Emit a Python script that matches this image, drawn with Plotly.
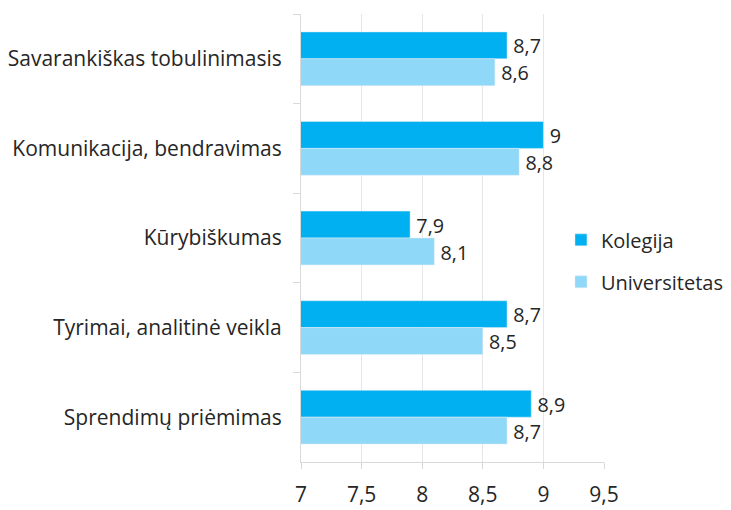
import plotly.graph_objects as go

categories = ["Savarankiškas tobulinimasis", "Komunikacija, bendravimas", "Kūrybiškumas",
              "Tyrimai, analitinė veikla", "Sprendimų priėmimas"]
kolegija = [8.7, 9.0, 7.9, 8.7, 8.9]
universitetas = [8.6, 8.8, 8.1, 8.5, 8.7]
x_ticks = [7, 7.5, 8, 8.5, 9, 9.5]
x_tick_labels = ["7", "7,5", "8", "8,5", "9", "9,5"]

def fmt(v):
    return "\u2009" + ("%g" % v).replace(".", ",")

FONT = "Open Sans"
TXT = "#262626"

fig = go.Figure()
fig.add_trace(go.Bar(
    y=categories, x=kolegija, orientation="h", name="Kolegija", legendgroup="k",
    marker=dict(color="#00B0F0"),
    text=[fmt(v) for v in kolegija], textposition="outside",
    textfont=dict(family=FONT, size=22, color=TXT), cliponaxis=False,
))
fig.add_trace(go.Bar(
    y=categories, x=universitetas, orientation="h", name="Universitetas", legendgroup="u",
    marker=dict(color="#8FD8F7"),
    text=[fmt(v) for v in universitetas], textposition="outside",
    textfont=dict(family=FONT, size=22, color=TXT), cliponaxis=False,
))

fig.update_layout(
    width=731, height=510,
    margin=dict(l=293, r=135, t=6, b=56, autoexpand=False),
    paper_bgcolor="white", plot_bgcolor="white",
    barmode="group", bargap=0.4, bargroupgap=0,
    font=dict(family=FONT, size=20, color=TXT),
    showlegend=True,
    legend=dict(x=0.858, y=0.449, xanchor="left", yanchor="middle",
                font=dict(family=FONT, size=20, color=TXT),
                tracegroupgap=13, itemwidth=30, bgcolor="rgba(0,0,0,0)"),
    xaxis=dict(range=[7, 9.5], tickvals=x_ticks, ticktext=x_tick_labels,
               showgrid=True, gridcolor="#E6E6E6", gridwidth=1,
               showline=True, linecolor="#D9D9D9", linewidth=1,
               ticks="outside", ticklen=14, tickcolor="rgba(0,0,0,0)", automargin=False,
               minor=dict(tickvals=x_ticks, ticks="outside", ticklen=6,
                          tickcolor="#D9D9D9", showgrid=False),
               tickfont=dict(family=FONT, size=21, color=TXT), zeroline=False),
    yaxis=dict(autorange="reversed", showline=True, linecolor="#D9D9D9", linewidth=1,
               ticks="outside", ticklen=7, tickcolor="#D9D9D9", tickson="boundaries",
               automargin=False,
               tickfont=dict(family=FONT, size=21, color=TXT), ticklabelstandoff=14),
)

fig.write_html("out.html")
